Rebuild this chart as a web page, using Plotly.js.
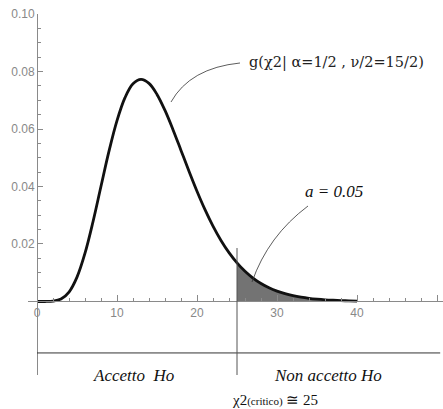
<!DOCTYPE html>
<html>
<head>
<meta charset="utf-8">
<script src="https://cdn.plot.ly/plotly-3.0.1.min.js"></script>
<style>html,body{margin:0;padding:0;background:#fff;}#chart{width:443px;height:409px;}</style>
</head>
<body>
<div id="chart"></div>
<script>
// Chi-square density (x step 1)
const chiX = [0,1,2,3,4,5,6,7,8,9,10,11,12,13,14,15,16,17,18,19,20,21,22,23,24,25,26,27,28,29,30,31,32,33,34,35,36,37,38,39,40];
const density = [0,0.000002,0.0001,0.00083,0.00327,0.00847,0.0168,0.02775,0.0401,0.05229,0.0629,0.07089,0.0757,0.07724,0.07585,0.07203,0.06645,0.05977,0.05256,0.04532,0.03836,0.03195,0.02622,0.02123,0.01698,0.01343,0.01051,0.00815,0.00626,0.00477,0.00361,0.00271,0.00202,0.0015,0.0011,0.00081,0.00059,0.00043,0.00031,0.00022,0.00016];
const critical = 25;
const xTickVals = [0,10,20,30,40,50];
const xTickText = ["0","10","20","30","40","50"];
const yTickVals = [0.02,0.04,0.06,0.08,0.10];
const yTickText = ["0.02","0.04","0.06","0.08","0.10"];
const yMinorVals = [0.005,0.01,0.015,0.025,0.03,0.035,0.045,0.05,0.055,0.065,0.07,0.075,0.085,0.09,0.095];
const xMinorVals = [2,4,6,8,12,14,16,18,22,24,26,28,32,34,36,38,42,44,46,48];

const tailX = chiX.filter(v => v >= critical);
const tailY = density.filter((v, i) => chiX[i] >= critical);

const xr = [-1.125, 50.75];
const yr = [-0.02557, 0.1];
const serif = "Liberation Serif, DejaVu Serif, serif";

const traces = [
  {x: tailX, y: tailY, type: 'scatter', mode: 'lines', fill: 'tozeroy',
   fillcolor: '#737373', line: {color: '#737373', width: 0, shape: 'spline'}, hoverinfo: 'skip'},
  {x: chiX, y: density, type: 'scatter', mode: 'lines',
   line: {color: '#111', width: 2.8, shape: 'spline'}}
];

const layout = {
  width: 443, height: 409,
  margin: {l: 28, r: 0, t: 14, b: 34, pad: 0},
  paper_bgcolor: '#fff', plot_bgcolor: '#fff',
  showlegend: false,
  xaxis: {
    range: xr, anchor: 'free', position: (0 - yr[0]) / (yr[1] - yr[0]),
    showline: true, linecolor: '#8a8a8a', linewidth: 1,
    showgrid: false, zeroline: false,
    tickmode: 'array', tickvals: xTickVals, ticktext: xTickText,
    ticks: 'inside', ticklen: 6, tickcolor: '#8a8a8a', tickwidth: 1,
    minor: {tickmode: 'array', tickvals: xMinorVals, ticks: 'inside', ticklen: 3, tickcolor: '#8a8a8a'},
    tickfont: {family: 'Liberation Sans, Arial, sans-serif', size: 12, color: '#888'}
  },
  yaxis: {
    range: yr, anchor: 'free', position: (0 - xr[0]) / (xr[1] - xr[0]),
    showline: true, linecolor: '#8a8a8a', linewidth: 1,
    showgrid: false, zeroline: false,
    tickmode: 'array', tickvals: yTickVals, ticktext: yTickText,
    ticks: 'inside', ticklen: 5, tickcolor: '#8a8a8a', tickwidth: 1,
    minor: {tickmode: 'array', tickvals: yMinorVals, ticks: 'inside', ticklen: 3, tickcolor: '#8a8a8a'},
    tickfont: {family: 'Liberation Sans, Arial, sans-serif', size: 12, color: '#888'}
  },
  shapes: [
    {type: 'line', xref: 'x', yref: 'y', x0: 0, x1: 50.4, y0: -0.0179, y1: -0.0179,
     line: {color: '#333', width: 1}},
    {type: 'line', xref: 'x', yref: 'paper', x0: critical, x1: critical, y0: 0, y1: (0.0186 - yr[0]) / (yr[1] - yr[0]),
     line: {color: '#555', width: 1}},
    {type: 'path', xref: 'x', yref: 'y', path: 'M 16.75 0.06939 Q 19.125 0.0812 25.375 0.08296',
     line: {color: '#333', width: 0.8}},
    {type: 'path', xref: 'x', yref: 'y', path: 'M 33.875 0.03322 Q 28.875 0.02278 26.875 0.00678',
     line: {color: '#333', width: 0.8}}
  ],
  annotations: [
    {x: 26.25, y: 0.08296, xref: 'x', yref: 'y', xanchor: 'left', yanchor: 'middle', showarrow: false,
     text: 'g(χ2| α=1/2 , ν/2=15/2)', font: {family: 'DejaVu Serif, serif', size: 14.5, color: '#222'}},
    {x: 37.1, y: 0.03809, xref: 'x', yref: 'y', xanchor: 'center', yanchor: 'middle', showarrow: false,
     text: '<i>a = 0.05</i>', font: {family: serif, size: 17, color: '#111'}},
    {x: 12.0, y: -0.02557, xref: 'x', yref: 'y', xanchor: 'center', yanchor: 'middle', showarrow: false,
     text: '<i>Accetto  Ho</i>', font: {family: serif, size: 17, color: '#111'}},
    {x: 36.4, y: -0.02557, xref: 'x', yref: 'y', xanchor: 'center', yanchor: 'middle', showarrow: false,
     text: '<i>Non accetto Ho</i>', font: {family: serif, size: 17, color: '#111'}},
    {x: 29.75, y: -0.0693, xref: 'x', yref: 'paper', xanchor: 'center', yanchor: 'middle', showarrow: false,
     text: 'χ2<span style="font-size:11px">(critico)</span> ≅ 25', font: {family: serif, size: 15, color: '#111'}}
  ]
};

Plotly.newPlot('chart', traces, layout, {displayModeBar: false, staticPlot: true});
</script>
</body>
</html>
